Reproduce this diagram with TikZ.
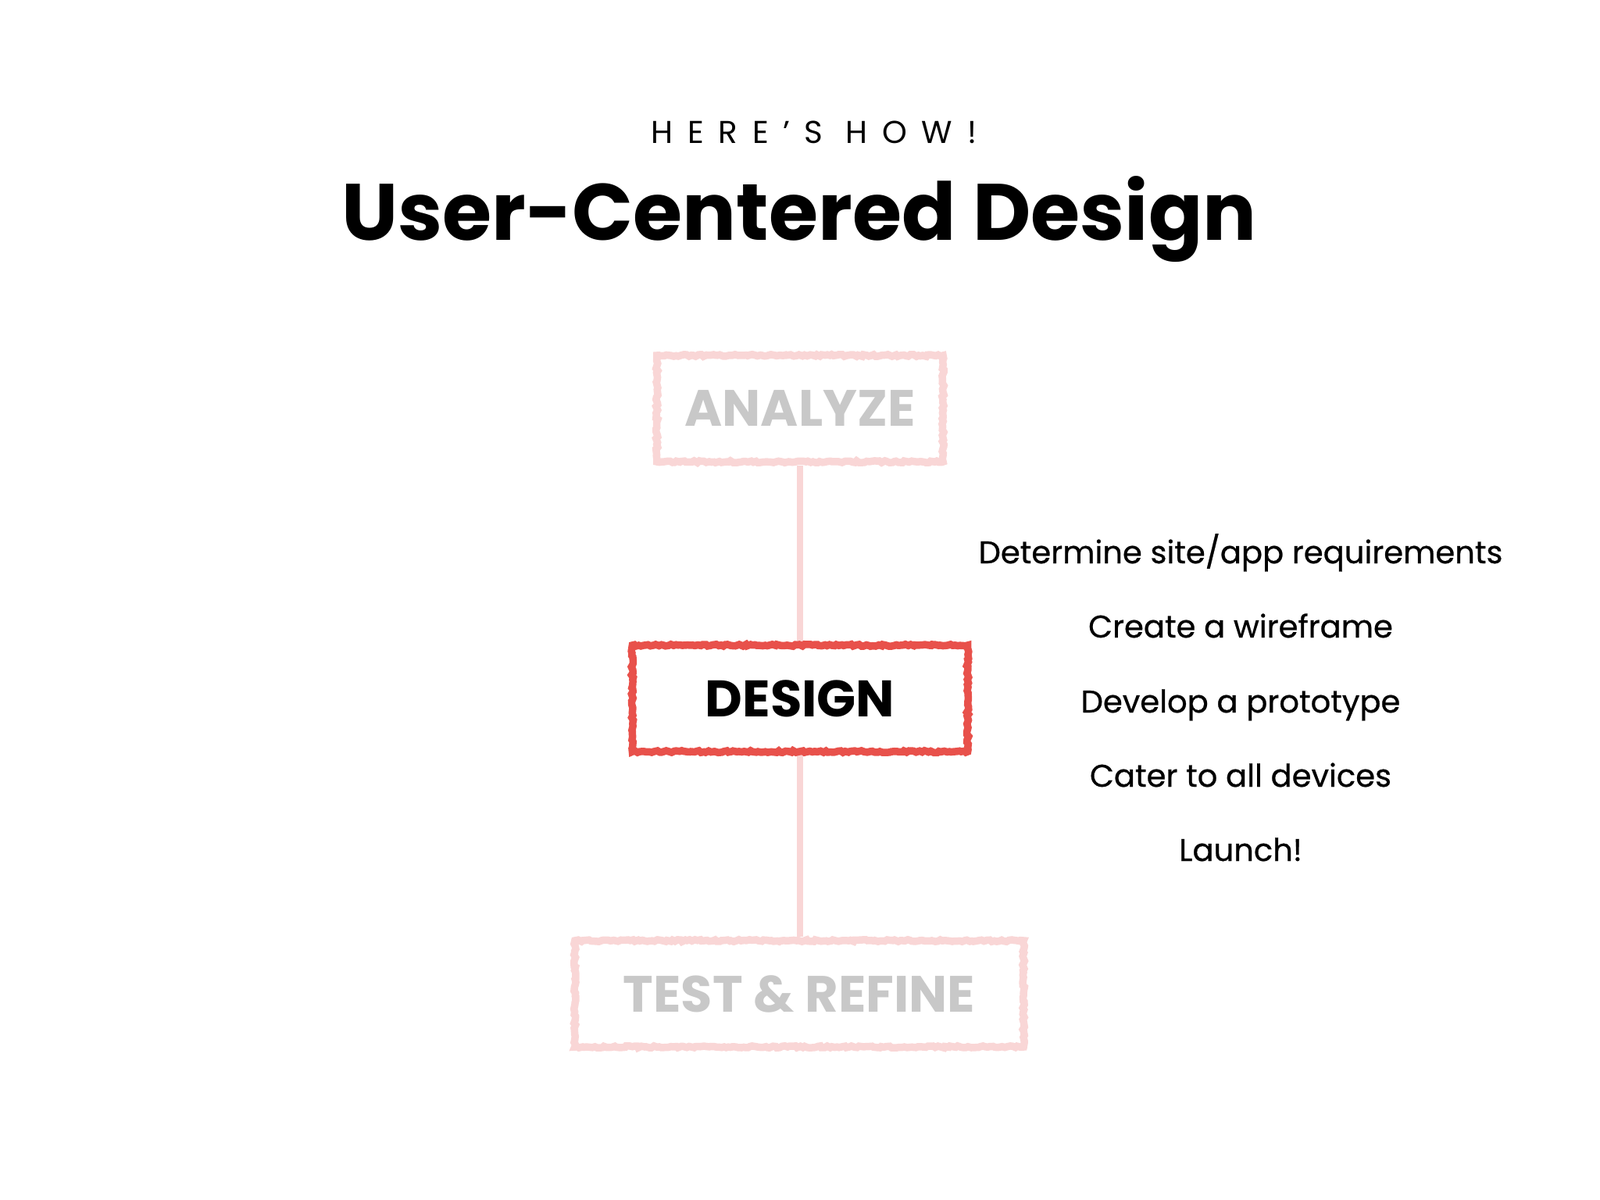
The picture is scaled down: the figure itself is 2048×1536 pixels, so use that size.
\documentclass[tikz,border=0pt]{standalone}
\usepackage{fontspec}
\setmainfont{Poppins}
\usetikzlibrary{decorations.pathmorphing}
\definecolor{softpink}{HTML}{F9D6D6}
\definecolor{chalkred}{HTML}{E8514B}
\definecolor{fadegray}{HTML}{C8C8C8}
\tikzset{
  chalk/.style={draw=#1, line width=0.095cm, decorate,
    decoration={random steps, segment length=0.9pt, amplitude=0.35pt}},
  stagebox/.style={chalk=#1, fill=white, minimum height=1.36cm, inner sep=0pt},
  faded/.style={text=fadegray, font=\bfseries\fontsize{18.6}{20}\selectfont},
  active/.style={text=black, font=\bfseries\fontsize{18.7}{22}\selectfont},
  link/.style={draw=softpink, line width=0.075cm},
  item/.style={anchor=base, font=\fontsize{11.4}{13}\selectfont\addfontfeatures{FakeBold=0.6}}
}
\begin{document}
\begin{tikzpicture}[x=0.01cm,y=-0.01cm]
\useasboundingbox (0,0) rectangle (2048,1536);
\node[anchor=base, font=\fontsize{11.5}{13}\selectfont\addfontfeatures{LetterSpace=46}] (kicker) at (1042,183) {HERE’S HOW!};
\node[anchor=base, font=\bfseries\fontsize{29.1}{36}\selectfont] (title) at (1023,307) {User-Centered Design};

\draw[link] (1024,596) -- (1024,821);
\draw[link] (1024,966) -- (1024,1199);

\node[stagebox=softpink, faded, minimum width=3.66cm] (analyze) at (1024,523) {ANALYZE};
\node[stagebox=chalkred, active, minimum width=4.29cm] (design) at (1024,894) {DESIGN};
\node[stagebox=softpink, faded, minimum width=5.74cm] (test) at (1023,1272) {TEST \& REFINE};

\node[item] (i1) at (1588,721) {Determine site/app requirements};
\node[item] (i2) at (1588,816) {Create a wireframe};
\node[item] (i3) at (1588,912) {Develop a prototype};
\node[item] (i4) at (1588,1007) {Cater to all devices};
\node[item] (i5) at (1588,1102) {Launch!};
\end{tikzpicture}
\end{document}
